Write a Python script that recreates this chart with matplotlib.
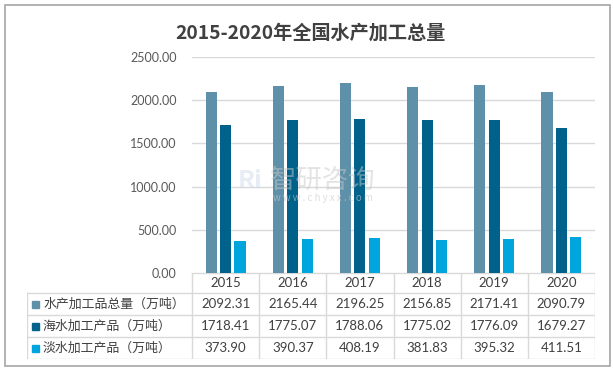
import matplotlib
matplotlib.use('Agg')
import matplotlib.pyplot as plt
from matplotlib.patches import Rectangle
from matplotlib.lines import Line2D
from matplotlib.ticker import FuncFormatter
import numpy as np

plt.rcParams['font.family'] = ['Noto Sans CJK SC', 'DejaVu Sans']
num_font = ['Lato', 'Noto Sans CJK SC', 'DejaVu Sans']

title = "2015-2020年全国水产加工总量"
years = ["2015", "2016", "2017", "2018", "2019", "2020"]
series_names = ["水产加工品总量（万吨）", "海水加工产品（万吨）", "淡水加工产品（万吨）"]
total = [2092.31, 2165.44, 2196.25, 2156.85, 2171.41, 2090.79]
marine = [1718.41, 1775.07, 1788.06, 1775.02, 1776.09, 1679.27]
fresh = [373.90, 390.37, 408.19, 381.83, 395.32, 411.51]
colors = ["#5E91A9", "#00628B", "#00A5DD"]

W, H = 613, 370
fig = plt.figure(figsize=(6.13, 3.70), dpi=100)


def fx(px):
    return px / W


def fy(py):
    return 1 - py / H


# outer frame
fig.patches.append(Rectangle((fx(5), fy(366)), fx(610) - fx(5), fy(5) - fy(366),
                             transform=fig.transFigure, fill=False,
                             edgecolor="#A6A6A6", lw=1.2))

fig.text(fx(310), fy(33), title, ha="center", va="center", fontsize=13.8,
         fontweight="bold", color="#404040")

# bar area
left, right, top, base = 192, 595, 57, 273
ax = fig.add_axes([fx(left), fy(base), fx(right) - fx(left), fy(top) - fy(base)])
x = np.arange(len(years))
width = 0.165
step = 0.215
for i, (vals, c) in enumerate(zip([total, marine, fresh], colors)):
    ax.bar(x + (i - 1) * step, vals, width, color=c, zorder=2)
ax.set_xlim(-0.5, len(years) - 0.5)
ax.set_ylim(0, 2500)
ax.set_yticks(np.arange(0, 2501, 500))
ax.yaxis.set_major_formatter(FuncFormatter(lambda v, p: "%.2f" % v))
ax.grid(axis="y", color="#D9D9D9", lw=1, zorder=0)
for s in ax.spines.values():
    s.set_visible(False)
ax.set_xticks([])
ax.tick_params(axis="y", length=0, pad=11, labelcolor="#595959", labelsize=9)
for lab in ax.get_yticklabels():
    lab.set_family(num_font)

# watermark
fig.text(fx(323), fy(180), "智研咨询", ha="center", va="center", fontsize=19,
         color="#C8C8C8", alpha=0.5, zorder=5)
fig.text(fx(323), fy(198), "w w w . c h y x x . c o m", ha="center", va="center",
         fontsize=7, color="#C8C8C8", alpha=0.6, zorder=5)
fig.text(fx(250), fy(181), "Ri", ha="center", va="center", fontsize=18,
         fontweight="bold", color="#C9D8EA", alpha=0.45, zorder=5)

# data table
tab_left, tab_bottom = 27, 359
tax = fig.add_axes([fx(tab_left), fy(tab_bottom), fx(right) - fx(tab_left),
                    fy(base) - fy(tab_bottom)])
tax.set_xlim(tab_left, right)
tax.set_ylim(tab_bottom, base)
tax.axis("off")

grid_c = "#D9D9D9"
col_w = (right - left) / len(years)
rows = [273, 293, 315, 337, 359]
tax.add_line(Line2D([left, right], [rows[0], rows[0]], color=grid_c, lw=1))
for r in rows[1:]:
    tax.add_line(Line2D([tab_left, right], [r, r], color=grid_c, lw=1))
tax.add_line(Line2D([tab_left, tab_left], [rows[1], rows[-1]], color=grid_c, lw=1))
for k in range(len(years) + 1):
    xx = left + k * col_w
    tax.add_line(Line2D([xx, xx], [rows[0], rows[-1]], color=grid_c, lw=1))

txt_c = "#404040"
for k, yr in enumerate(years):
    cx = left + (k + 0.5) * col_w
    tax.text(cx, (rows[0] + rows[1]) / 2, yr, ha="center", va="center",
             fontsize=9.5, color=txt_c, family=num_font)
for j, (name, vals, c) in enumerate(zip(series_names, [total, marine, fresh], colors)):
    cy = (rows[j + 1] + rows[j + 2]) / 2
    tax.add_patch(Rectangle((32, cy - 3.5), 7, 7, color=c))
    tax.text(43, cy, name, ha="left", va="center", fontsize=9.3, color=txt_c)
    for k, v in enumerate(vals):
        cx = left + (k + 0.5) * col_w
        tax.text(cx, cy, "%.2f" % v, ha="center", va="center", fontsize=9.5,
                 color=txt_c, family=num_font)

fig.savefig("out.png", dpi=100)
